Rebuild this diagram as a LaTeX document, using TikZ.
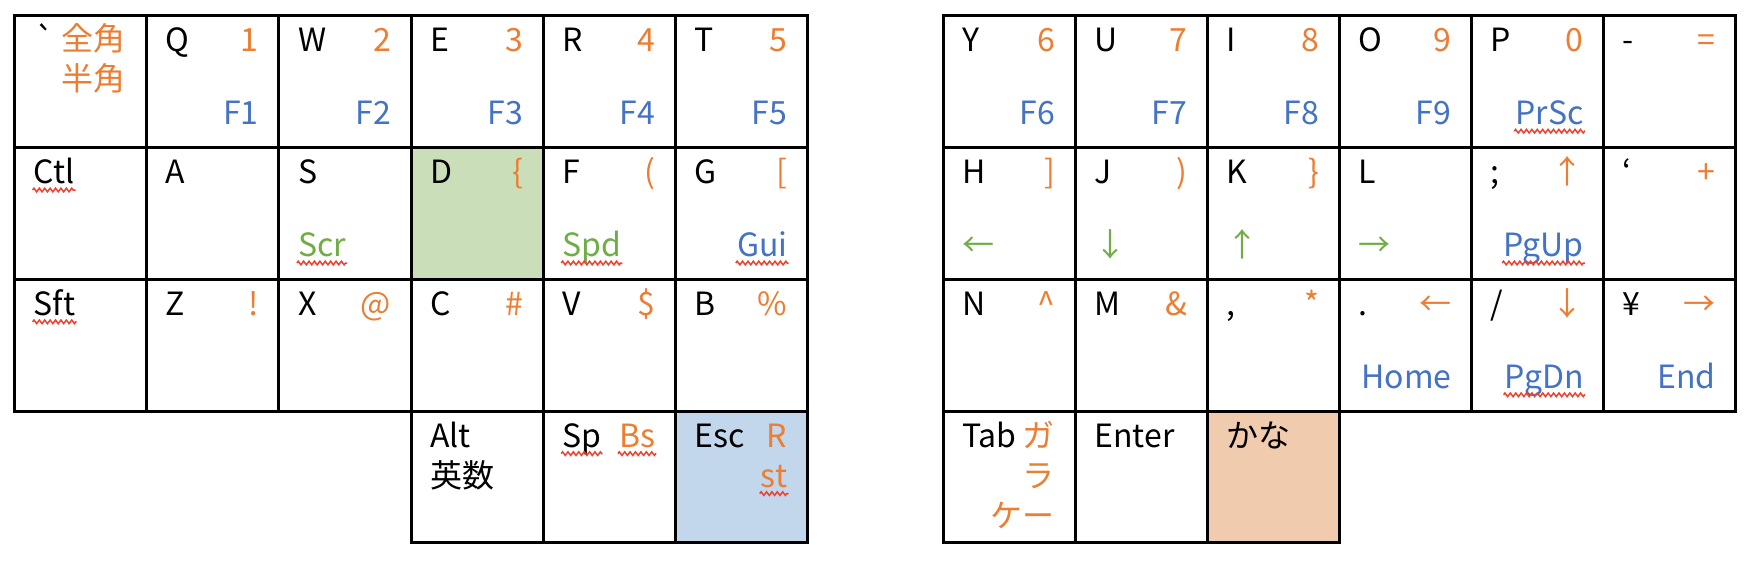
\documentclass[tikz,border=0pt]{standalone}
\usepackage{fontspec}
\setmainfont{Noto Sans CJK JP}[Ligatures=TeXOff]
\usetikzlibrary{calc,decorations.pathmorphing}
\definecolor{korange}{HTML}{ED7D31}
\definecolor{kblue}{HTML}{4472C4}
\definecolor{kgreen}{HTML}{70AD47}
\definecolor{fgreen}{HTML}{CADFB9}
\definecolor{fblue}{HTML}{C2D6EC}
\definecolor{forange}{HTML}{F0CBAE}
\definecolor{squigred}{HTML}{F0402E}
\newcommand\kTL[4][]{\node[tl,#1] (#2) at ($(#3)+(19,36)$) {#4};}
\newcommand\kTR[4][]{\node[tr,#1] (#2) at ($(#3)+(-20,36)$) {#4};}
\newcommand\kBL[4][]{\node[tl,#1] (#2) at ($(#3)+(19,109)$) {#4};}
\newcommand\kBR[4][]{\node[tr,#1] (#2) at ($(#3)+(-20,109)$) {#4};}
\newcommand\ksq[1]{\draw[squig] ($(#1.base west)+(-1,6.5)$) -- ($(#1.base east)+(1,6.5)$);}
\begin{document}
\begin{tikzpicture}[x=1pt,y=-1pt,
  every node/.style={inner sep=0pt, font=\fontsize{32}{38}\selectfont},
  tl/.style={anchor=base west}, tr/.style={anchor=base east},
  org/.style={text=korange}, blu/.style={text=kblue}, grn/.style={text=kgreen},
  keyline/.style={draw=black, line width=3pt, line cap=rect},
  squig/.style={draw=squigred, line width=1.5pt, decorate,
    decoration={zigzag, segment length=5.4pt, amplitude=1.8pt}}]
\useasboundingbox[fill=white] (0,0) rectangle (1756,566);
\foreach \i in {0,...,6}{\foreach \j in {0,...,4}{
  \coordinate (L\i\j) at ({14.6+\i*132.15},{15.7+\j*131.8});
  \coordinate (R\i\j) at ({943+\i*132.15},{15.7+\j*131.8});
}}
% fills
\fill[fgreen] (L31) rectangle (L42);
\fill[fblue] (L53) rectangle (L64);
\fill[forange] (R23) rectangle (R34);
% grid lines
\foreach \j in {0,1,2,3}{\draw[keyline] (L0\j) -- (L6\j); \draw[keyline] (R0\j) -- (R6\j);}
\draw[keyline] (L34) -- (L64);
\draw[keyline] (R04) -- (R34);
\foreach \i in {0,...,6}{\draw[keyline] (L\i0) -- (L\i3); \draw[keyline] (R\i0) -- (R\i3);}
\foreach \i in {3,...,6}{\draw[keyline] (L\i3) -- (L\i4);}
\foreach \i in {0,...,3}{\draw[keyline] (R\i3) -- (R\i4);}
% ---------- left half ----------
% row 0
\node[tl] (kbq) at ($(L00)+(21,36)$) {`};
\node[tl,org] (kzen) at ($(L00)+(47,35)$) {全角};
\node[tl,org] (khan) at ($(L00)+(47,75)$) {半角};
\kTL{kq}{L10}{Q}\kTR[org]{kq1}{L20}{1}\kBR[blu]{kqf}{L20}{F1}
\kTL{kw}{L20}{W}\kTR[org]{kw2}{L30}{2}\kBR[blu]{kwf}{L30}{F2}
\kTL{ke}{L30}{E}\kTR[org]{ke3}{L40}{3}\kBR[blu]{kef}{L40}{F3}
\kTL{kr}{L40}{R}\kTR[org]{kr4}{L50}{4}\kBR[blu]{krf}{L50}{F4}
\kTL{kt}{L50}{T}\kTR[org]{kt5}{L60}{5}\kBR[blu]{ktf}{L60}{F5}
% row 1
\kTL{kctl}{L01}{Ctl}\ksq{kctl}
\kTL{ka}{L11}{A}
\kTL{ks}{L21}{S}\kBL[grn]{kscr}{L21}{Scr}\ksq{kscr}
\kTL{kd}{L31}{D}\kTR[org]{kdb}{L41}{\{}
\kTL{kf}{L41}{F}\kTR[org]{kfp}{L51}{(}\kBL[grn]{kspd}{L41}{Spd}\ksq{kspd}
\kTL{kg}{L51}{G}\kTR[org]{kgb}{L61}{[}\kBR[blu]{kgui}{L61}{Gui}\ksq{kgui}
% row 2
\kTL{ksft}{L02}{Sft}\ksq{ksft}
\kTL{kz}{L12}{Z}\kTR[org]{kzx}{L22}{!}
\kTL{kx}{L22}{X}\kTR[org]{kxa}{L32}{@}
\kTL{kc}{L32}{C}\kTR[org]{kch}{L42}{\#}
\kTL{kv}{L42}{V}\kTR[org]{kvd}{L52}{\$}
\kTL{kb}{L52}{B}\kTR[org]{kbp}{L62}{\%}
% row 3
\kTL{kalt}{L33}{Alt}
\node[tl] (keisu) at ($(L33)+(19,76)$) {英数};
\kTL{ksp}{L43}{Sp}\ksq{ksp}
\kTR[org]{kbs}{L53}{Bs}\ksq{kbs}
\kTL{kesc}{L53}{Esc}\kTR[org]{krr}{L63}{R}
\node[tr,org] (kst) at ($(L63)+(-20,76)$) {st};\ksq{kst}
% ---------- right half ----------
% row 0
\kTL{ky}{R00}{Y}\kTR[org]{ky6}{R10}{6}\kBR[blu]{kyf}{R10}{F6}
\kTL{ku}{R10}{U}\kTR[org]{ku7}{R20}{7}\kBR[blu]{kuf}{R20}{F7}
\kTL{ki}{R20}{I}\kTR[org]{ki8}{R30}{8}\kBR[blu]{kif}{R30}{F8}
\kTL{ko}{R30}{O}\kTR[org]{ko9}{R40}{9}\kBR[blu]{kof}{R40}{F9}
\kTL{kp}{R40}{P}\kTR[org]{kp0}{R50}{0}\kBR[blu]{kprsc}{R50}{PrSc}\ksq{kprsc}
\kTL{kmin}{R50}{-}\kTR[org]{keq}{R60}{=}
% row 1
\kTL{kh}{R01}{H}\kTR[org]{khb}{R11}{]}\kBL[grn]{khl}{R01}{←}
\kTL{kj}{R11}{J}\kTR[org]{kjp}{R21}{)}\kBL[grn]{kjd}{R11}{↓}
\kTL{kk}{R21}{K}\kTR[org]{kkb}{R31}{\}}\kBL[grn]{kku}{R21}{↑}
\kTL{kl}{R31}{L}\kBL[grn]{kll}{R31}{→}
\kTL{ksc}{R41}{;}\kTR[org]{kscu}{R51}{↑}\kBR[blu]{kpgup}{R51}{PgUp}\ksq{kpgup}
\kTL{kqu}{R51}{‘}\kTR[org]{kplus}{R61}{+}
% row 2
\kTL{kn}{R02}{N}\kTR[org]{knc}{R12}{\textasciicircum}
\kTL{km}{R12}{M}\kTR[org]{kma}{R22}{\&}
\kTL{kcom}{R22}{,}\kTR[org]{kcoms}{R32}{*}
\kTL{kdot}{R32}{.}\kTR[org]{kdotl}{R42}{←}\kBR[blu]{khome}{R42}{Home}
\kTL{ksl}{R42}{/}\kTR[org]{ksld}{R52}{↓}\kBR[blu]{kpgdn}{R52}{PgDn}\ksq{kpgdn}
\kTL{kyen}{R52}{¥}\kTR[org]{kyenr}{R62}{→}\kBR[blu]{kend}{R62}{End}
% row 3
\kTL{ktab}{R03}{Tab}\kTR[org]{kga}{R13}{ガ}
\node[tr,org] (kra) at ($(R13)+(-20,76)$) {ラ};
\node[tr,org] (kke) at ($(R13)+(-20,116)$) {ケー};
\kTL{kent}{R13}{Enter}
\kTL{kkana}{R23}{かな}
\end{tikzpicture}
\end{document}
